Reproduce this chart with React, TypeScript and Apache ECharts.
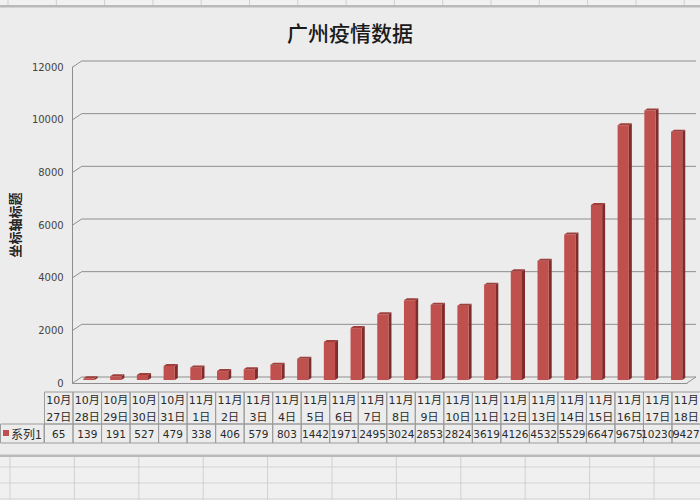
import React, { useEffect, useRef } from "react";
import * as echarts from "echarts";

const categories = [
  "10月27日", "10月28日", "10月29日", "10月30日", "10月31日",
  "11月1日", "11月2日", "11月3日", "11月4日", "11月5日", "11月6日",
  "11月7日", "11月8日", "11月9日", "11月10日", "11月11日", "11月12日",
  "11月13日", "11月14日", "11月15日", "11月16日", "11月17日", "11月18日",
];
const values = [
  65, 139, 191, 527, 479, 338, 406, 579, 803, 1442, 1971, 2495, 3024,
  2853, 2824, 3619, 4126, 4532, 5529, 6647, 9675, 10230, 9427,
];
const yTicks = [0, 2000, 4000, 6000, 8000, 10000, 12000];
const seriesName = "系列1";
const titleText = "广州疫情数据";
const yAxisTitle = "坐标轴标题";

const DX = 9;
const DY = 6;
const GRID_COLOR = "#8e8e8e";
const FONT = "'DejaVu Sans', 'Noto Sans CJK SC', sans-serif";

export default function App() {
  const ref = useRef<HTMLDivElement>(null);
  useEffect(() => {
    document.body.style.margin = "0";
    const chart = echarts.init(ref.current!, null, { renderer: "svg" });

    const decor: any[] = [];
    // top spreadsheet strip
    decor.push({ type: "rect", shape: { x: 0, y: 0, width: 700, height: 6 }, style: { fill: "#f1f1f1" }, silent: true });
    for (let k = 0; k < 15; k++) {
      const x = 8 + 48.3 * k;
      decor.push({ type: "line", shape: { x1: x, y1: 0, x2: x, y2: 6 }, style: { stroke: "#cfcfcf", lineWidth: 1 }, silent: true });
    }
    decor.push({ type: "rect", shape: { x: 0, y: 5, width: 700, height: 2.5 }, style: { fill: "#b9b9b9" }, silent: true });
    // bottom spreadsheet strip
    decor.push({ type: "rect", shape: { x: 0, y: 456, width: 700, height: 44 }, style: { fill: "#f0f0f0" }, silent: true });
    decor.push({ type: "rect", shape: { x: 0, y: 454.5, width: 700, height: 2.5 }, style: { fill: "#b9b9b9" }, silent: true });
    [467, 483, 499].forEach((y) =>
      decor.push({ type: "line", shape: { x1: 0, y1: y, x2: 700, y2: y }, style: { stroke: "#d3d3d3", lineWidth: 1 }, silent: true })
    );
    for (let k = 0; k < 11; k++) {
      const x = 10 + 64.4 * k;
      decor.push({ type: "line", shape: { x1: x, y1: 457, x2: x, y2: 500 }, style: { stroke: "#d0d0d0", lineWidth: 1 }, silent: true });
    }
    // legend key cell of the data table
    decor.push({ type: "rect", shape: { x: 0.5, y: 424, width: 43.5, height: 19 }, style: { fill: "none", stroke: "#9c9c9c", lineWidth: 1 }, silent: true });
    decor.push({ type: "rect", shape: { x: 3, y: 430, width: 6, height: 6 }, style: { fill: "#c0504d" }, silent: true });
    decor.push({
      type: "text", x: 11, y: 433.5,
      style: { text: seriesName, fill: "#2a2a2a", font: "12px 'Noto Sans CJK SC', sans-serif", verticalAlign: "middle", align: "left" },
      silent: true,
    });

    const option: any = {
      animation: false,
      backgroundColor: "#ececec",
      title: {
        text: titleText,
        left: "center",
        top: 16,
        textStyle: { fontSize: 21, fontWeight: 500, color: "#1a1a1a", fontFamily: "'Noto Sans CJK SC', sans-serif" },
      },
      graphic: decor,
      grid: [
        { left: 66, top: 67, width: 621, height: 316 },
        { left: 44, top: 392, width: 23 * 28.6, height: 51 },
      ],
      xAxis: [
        {
          type: "category",
          gridIndex: 0,
          data: categories,
          axisLine: { show: true, lineStyle: { color: GRID_COLOR, width: 1 } },
          axisTick: { show: false },
          axisLabel: { show: false },
        },
        {
          type: "category",
          gridIndex: 1,
          data: categories,
          show: false,
        },
      ],
      yAxis: [
        {
          type: "value",
          gridIndex: 0,
          min: 0,
          max: 12000,
          interval: 2000,
          name: yAxisTitle,
          nameLocation: "middle",
          nameRotate: 90,
          nameGap: 47,
          nameTextStyle: { fontSize: 13, fontWeight: "bold", color: "#222", fontFamily: "'Noto Sans CJK SC', sans-serif" },
          axisLine: { show: true, lineStyle: { color: GRID_COLOR, width: 1 } },
          axisTick: { show: false },
          splitLine: { show: false },
          axisLabel: { margin: 9, fontSize: 10, color: "#444", fontFamily: FONT, formatter: (v: number) => String(v) },
        },
        { type: "value", gridIndex: 1, min: 0, max: 1, show: false },
      ],
      series: [
        {
          type: "custom",
          name: "grid3d",
          xAxisIndex: 0,
          yAxisIndex: 0,
          clip: false,
          silent: true,
          data: yTicks.map((v) => [0, v]),
          encode: { x: 0, y: 1 },
          renderItem: (params: any, api: any) => {
            const cs = params.coordSys;
            const y = api.coord([0, api.value(1)])[1];
            const children: any[] = [
              {
                type: "polyline",
                shape: { points: [[cs.x, y], [cs.x + DX, y - DY], [cs.x + cs.width + DX, y - DY]] },
                style: { stroke: GRID_COLOR, lineWidth: 1, fill: "none" },
              },
            ];
            if (api.value(1) === 0) {
              children.push({
                type: "line",
                shape: { x1: cs.x + cs.width, y1: y, x2: cs.x + cs.width + DX, y2: y - DY },
                style: { stroke: GRID_COLOR, lineWidth: 1 },
              });
            }
            return { type: "group", children };
          },
        },
        {
          type: "custom",
          name: seriesName,
          xAxisIndex: 0,
          yAxisIndex: 0,
          clip: false,
          data: values.map((v, i) => [i, v]),
          encode: { x: 0, y: 1 },
          renderItem: (params: any, api: any) => {
            const i = api.value(0);
            const v = api.value(1);
            const top = api.coord([i, v]);
            const base = api.coord([i, 0]);
            const w = api.size([1, 0])[0] * 0.42;
            const ox = 3, oy = -3, sd = 3, sdy = 2;
            const x = top[0] - w / 2 + ox;
            const yT = top[1] + oy;
            const yB = base[1] + oy;
            return {
              type: "group",
              children: [
                {
                  type: "polygon",
                  shape: { points: [[x + w, yT], [x + w + sd, yT - sdy], [x + w + sd, yB - sdy], [x + w, yB]] },
                  style: { fill: "#7f2c2a" },
                },
                {
                  type: "rect",
                  shape: { x, y: yT, width: w, height: yB - yT },
                  style: { fill: "#c0504d" },
                },
                {
                  type: "polygon",
                  shape: { points: [[x, yT], [x + sd, yT - sdy], [x + w + sd, yT - sdy], [x + w, yT]] },
                  style: { fill: "#9e3f3c" },
                },
              ],
            };
          },
        },
        {
          type: "custom",
          name: "table",
          xAxisIndex: 1,
          yAxisIndex: 1,
          clip: false,
          silent: true,
          data: values.map((v, i) => [i, 0, v]),
          encode: { x: 0, y: 1 },
          renderItem: (params: any, api: any) => {
            const cs = params.coordSys;
            const i = api.value(0);
            const cx = api.coord([i, 0])[0];
            const w = api.size([1, 0])[0];
            const x = cx - w / 2;
            const y0 = cs.y;
            const h1 = 32;
            const h2 = cs.height - h1;
            const label = categories[i].replace("月", "月\n");
            return {
              type: "group",
              children: [
                { type: "rect", shape: { x: x + 0.5, y: y0, width: w, height: h1 }, style: { fill: "none", stroke: "#9c9c9c", lineWidth: 1 } },
                { type: "rect", shape: { x: x + 0.5, y: y0 + h1, width: w, height: h2 }, style: { fill: "none", stroke: "#9c9c9c", lineWidth: 1 } },
                {
                  type: "text",
                  x: cx + 0.5,
                  y: y0 + h1 / 2 + 0.5,
                  style: { text: label, fill: "#2a2a2a", font: "11px " + FONT, align: "center", verticalAlign: "middle", lineHeight: 17 },
                },
                {
                  type: "text",
                  x: cx + 0.5,
                  y: y0 + h1 + h2 / 2 + 0.5,
                  style: { text: String(api.value(2)), fill: "#2a2a2a", font: "10.5px " + FONT, align: "center", verticalAlign: "middle" },
                },
              ],
            };
          },
        },
      ],
    };
    chart.setOption(option);
    return () => chart.dispose();
  }, []);
  return <div ref={ref} style={{ width: 700, height: 500 }} />;
}
